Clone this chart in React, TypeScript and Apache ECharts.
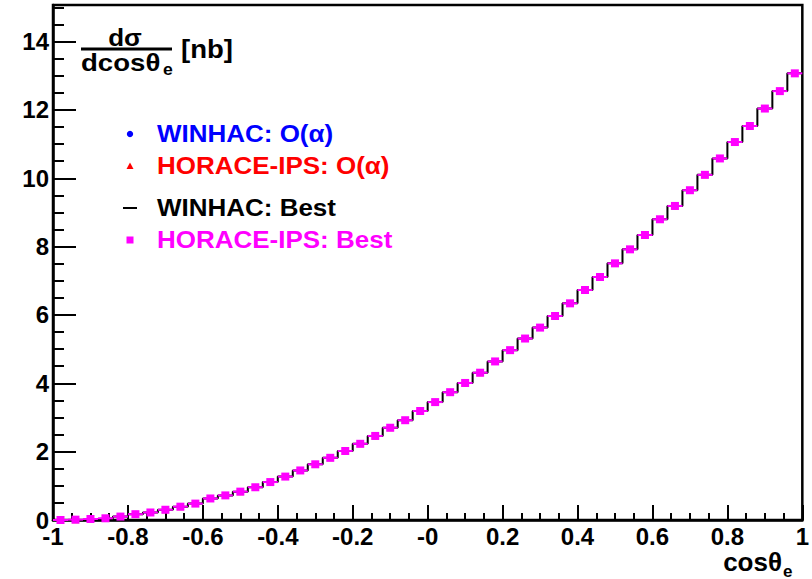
import React, { useEffect, useRef } from "react";
import * as echarts from "echarts";

// Bin centres of cos(theta_e), bin width 0.04
const binCenters = [
  -0.98, -0.94, -0.9, -0.86, -0.82, -0.78, -0.74, -0.7, -0.66, -0.62,
  -0.58, -0.54, -0.5, -0.46, -0.42, -0.38, -0.34, -0.3, -0.26, -0.22,
  -0.18, -0.14, -0.1, -0.06, -0.02, 0.02, 0.06, 0.1, 0.14, 0.18,
  0.22, 0.26, 0.3, 0.34, 0.38, 0.42, 0.46, 0.5, 0.54, 0.58,
  0.62, 0.66, 0.7, 0.74, 0.78, 0.82, 0.86, 0.9, 0.94, 0.98,
];
const binWidth = 0.04;

// dsigma/dcos(theta_e) [nb]
const winhacBest = [
  0.0, 0.01, 0.03, 0.05, 0.1, 0.17, 0.22, 0.3, 0.39, 0.48,
  0.63, 0.72, 0.83, 0.96, 1.11, 1.27, 1.45, 1.63, 1.82, 2.02,
  2.23, 2.46, 2.7, 2.92, 3.19, 3.45, 3.74, 4.01, 4.31, 4.64,
  4.97, 5.31, 5.63, 5.97, 6.34, 6.73, 7.11, 7.51, 7.92, 8.34,
  8.8, 9.19, 9.65, 10.1, 10.58, 11.06, 11.53, 12.04, 12.55, 13.07,
];
const horaceBest = [
  0.0, 0.01, 0.03, 0.05, 0.1, 0.17, 0.22, 0.3, 0.39, 0.48,
  0.63, 0.72, 0.83, 0.96, 1.11, 1.27, 1.45, 1.63, 1.82, 2.02,
  2.23, 2.46, 2.7, 2.92, 3.19, 3.45, 3.74, 4.01, 4.31, 4.64,
  4.97, 5.31, 5.63, 5.97, 6.34, 6.73, 7.11, 7.51, 7.92, 8.34,
  8.8, 9.19, 9.65, 10.1, 10.58, 11.06, 11.53, 12.04, 12.55, 13.07,
];
const winhacOa = [
  0.0, 0.01, 0.03, 0.05, 0.1, 0.17, 0.22, 0.3, 0.39, 0.48,
  0.62, 0.72, 0.82, 0.96, 1.11, 1.27, 1.45, 1.62, 1.82, 2.02,
  2.23, 2.46, 2.7, 2.92, 3.19, 3.45, 3.74, 4.0, 4.31, 4.64,
  4.97, 5.3, 5.63, 5.97, 6.33, 6.73, 7.1, 7.51, 7.92, 8.34,
  8.8, 9.19, 9.65, 10.1, 10.58, 11.06, 11.53, 12.04, 12.55, 13.07,
];
const horaceOa = [
  0.0, 0.01, 0.03, 0.05, 0.1, 0.17, 0.22, 0.3, 0.39, 0.48,
  0.63, 0.72, 0.83, 0.96, 1.11, 1.27, 1.45, 1.63, 1.82, 2.02,
  2.23, 2.46, 2.7, 2.92, 3.19, 3.45, 3.74, 4.01, 4.31, 4.64,
  4.97, 5.31, 5.63, 5.97, 6.34, 6.73, 7.11, 7.51, 7.92, 8.34,
  8.8, 9.19, 9.65, 10.1, 10.58, 11.06, 11.53, 12.04, 12.55, 13.07,
];

const legendNames = [
  "WINHAC: O(α)",
  "HORACE-IPS: O(α)",
  "WINHAC: Best",
  "HORACE-IPS: Best",
];
const legendColors = ["#0000ff", "#ff0000", "#000000", "#ff00ff"];

const FONT = "'Liberation Sans', Arial, Helvetica, sans-serif";

export default function App() {
  const ref = useRef<HTMLDivElement>(null);

  useEffect(() => {
    if (!ref.current) return;
    const chart = echarts.init(ref.current, undefined, { renderer: "svg" });

    const stepData: number[][] = binCenters.map((c, i) => [c - binWidth / 2, winhacBest[i]]);
    stepData.push([
      binCenters[binCenters.length - 1] + binWidth / 2,
      winhacBest[winhacBest.length - 1],
    ]);

    const fmtX = (v: number) => {
      if (Math.abs(v) < 1e-9) return "-0";
      return String(Number(v.toFixed(1)));
    };
    const fmtY = (v: number) => {
      const r = Math.round(v);
      if (Math.abs(v - r) < 1e-6 && r % 2 === 0) return String(r);
      return "";
    };

    const legendY = [134, 166, 208, 240];
    const legendTextX = 157;
    const markerX = 130;

    const txt = (
      text: string,
      x: number,
      y: number,
      size: number,
      color: string,
      align: string,
      scaleX = 1.13
    ) => ({
      type: "text",
      x,
      y,
      scaleX,
      silent: true,
      z: 100,
      style: {
        text,
        fill: color,
        font: `bold ${size}px ${FONT}`,
        textAlign: align,
        textVerticalAlign: "middle",
        verticalAlign: "middle",
      },
    });

    const graphics: any[] = [];
    // legend
    graphics.push({
      type: "circle",
      shape: { cx: markerX, cy: legendY[0], r: 3.2 },
      style: { fill: legendColors[0] },
      z: 100,
    });
    graphics.push({
      type: "polygon",
      shape: {
        points: [
          [markerX, legendY[1] - 3.5],
          [markerX - 3.5, legendY[1] + 3],
          [markerX + 3.5, legendY[1] + 3],
        ],
      },
      style: { fill: legendColors[1] },
      z: 100,
    });
    graphics.push({
      type: "line",
      shape: { x1: markerX - 7, y1: legendY[2], x2: markerX + 7, y2: legendY[2] },
      style: { stroke: legendColors[2], lineWidth: 2 },
      z: 100,
    });
    graphics.push({
      type: "rect",
      shape: { x: markerX - 3.5, y: legendY[3] - 3.5, width: 7, height: 7 },
      style: { fill: legendColors[3] },
      z: 100,
    });
    legendNames.forEach((n, i) => {
      graphics.push(txt(n, legendTextX, legendY[i], 23, legendColors[i], "left"));
    });

    // y-axis title: dσ / dcosθe [nb]
    graphics.push(txt("dσ", 125, 38, 23, "#000", "center"));
    graphics.push({
      type: "line",
      shape: { x1: 81, y1: 49, x2: 172, y2: 49 },
      style: { stroke: "#000", lineWidth: 3 },
      z: 100,
    });
    graphics.push(txt("dcosθ", 81, 63, 23, "#000", "left", 1.2));
    graphics.push(txt("e", 163, 70, 16, "#000", "left", 1.1));
    graphics.push(txt("[nb]", 181, 49, 25, "#000", "left", 1.1));

    // x-axis title: cosθe
    graphics.push(txt("cosθ", 782, 562, 26, "#000", "right", 1.0));
    graphics.push(txt("e", 783, 571, 17, "#000", "left", 1.0));

    const option: any = {
      animation: false,
      backgroundColor: "#ffffff",
      grid: {
        left: 53,
        right: 7,
        top: 5,
        bottom: 59,
        show: true,
        borderColor: "#000",
        borderWidth: 2.5,
        backgroundColor: "transparent",
        containLabel: false,
      },
      xAxis: {
        type: "value",
        min: -1,
        max: 1,
        interval: 0.2,
        axisLine: { show: true, onZero: false, lineStyle: { color: "#000", width: 2.5 } },
        axisTick: { show: true, inside: true, length: 15, lineStyle: { color: "#000", width: 2 } },
        minorTick: { show: true, splitNumber: 4, length: 7, lineStyle: { color: "#000", width: 2 } },
        splitLine: { show: false },
        minorSplitLine: { show: false },
        axisLabel: {
          color: "#000",
          fontFamily: FONT,
          fontWeight: "bold",
          fontSize: 24,
          lineHeight: 16,
          margin: 8,
          formatter: fmtX,
          showMinLabel: true,
          showMaxLabel: true,
        },
      },
      yAxis: [
        {
          type: "value",
          min: 0,
          max: 15.07,
          interval: 2,
          position: "left",
          axisLine: { show: true, onZero: false, lineStyle: { color: "#000", width: 2.5 } },
          axisTick: { show: true, inside: true, length: 23, lineStyle: { color: "#000", width: 2 } },
          splitLine: { show: false },
          axisLabel: {
            color: "#000",
            fontFamily: FONT,
            fontWeight: "bold",
            fontSize: 24,
            lineHeight: 16,
            margin: 4,
            formatter: fmtY,
          },
        },
        {
          type: "value",
          min: 0,
          max: 15.07,
          interval: 0.5,
          position: "left",
          offset: 0,
          axisLine: { show: false, onZero: false },
          axisTick: { show: true, inside: true, length: 11, lineStyle: { color: "#000", width: 2 } },
          splitLine: { show: false },
          axisLabel: { show: false },
        },
      ],
      graphic: graphics,
      series: [
        {
          name: legendNames[2],
          type: "line",
          step: "end",
          data: stepData,
          showSymbol: false,
          symbol: "none",
          lineStyle: { color: "#000", width: 2 },
          z: 2,
        },
        {
          name: legendNames[0],
          type: "scatter",
          symbol: "circle",
          symbolSize: 6,
          data: binCenters.map((c, i) => [c, winhacOa[i]]),
          itemStyle: { color: legendColors[0] },
          z: 3,
        },
        {
          name: legendNames[1],
          type: "scatter",
          symbol: "triangle",
          symbolSize: 7,
          data: binCenters.map((c, i) => [c, horaceOa[i]]),
          itemStyle: { color: legendColors[1] },
          z: 3,
        },
        {
          name: legendNames[3],
          type: "custom",
          data: binCenters.map((c, i) => [c, horaceBest[i]]),
          encode: { x: 0, y: 1 },
          z: 5,
          renderItem: (params: any, api: any) => {
            const x = api.value(0);
            const y = api.value(1);
            const p = api.coord([x, y]);
            const l = api.coord([x - binWidth / 2, y]);
            const r = api.coord([x + binWidth / 2, y]);
            return {
              type: "group",
              children: [
                {
                  type: "line",
                  shape: { x1: l[0], y1: l[1], x2: r[0], y2: r[1] },
                  style: { stroke: legendColors[3], lineWidth: 2 },
                },
                {
                  type: "rect",
                  shape: { x: p[0] - 4, y: p[1] - 4, width: 8, height: 8 },
                  style: { fill: legendColors[3] },
                },
              ],
            };
          },
        },
      ],
    };

    chart.setOption(option);
    return () => chart.dispose();
  }, []);

  return (
    <div
      ref={ref}
      style={{ position: "fixed", left: 0, top: 0, width: 812, height: 579, background: "#fff" }}
    />
  );
}
